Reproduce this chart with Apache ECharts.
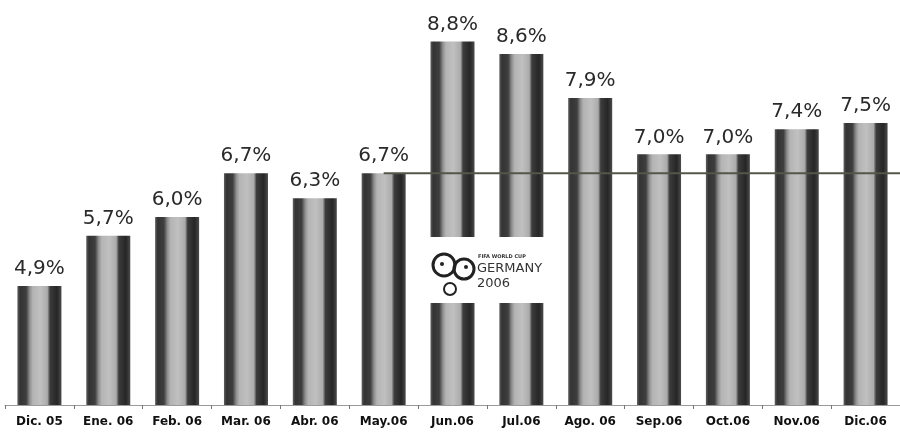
<!DOCTYPE html>
<html>
<head>
<meta charset="utf-8">
<script src="https://cdn.jsdelivr.net/npm/echarts@6/dist/echarts.min.js"></script>
<style>html,body{margin:0;padding:0;background:#fff}#c{width:900px;height:437px}</style>
</head>
<body>
<div id="c"></div>
<script>
// ---- data ----
var categories = ['Dic. 05','Ene. 06','Feb. 06','Mar. 06','Abr. 06','May.06','Jun.06','Jul.06','Ago. 06','Sep.06','Oct.06','Nov.06','Dic.06'];
var values = [4.9, 5.7, 6.0, 6.7, 6.3, 6.7, 8.8, 8.6, 7.9, 7.0, 7.0, 7.4, 7.5];
var refLevel = 6.7;           // reference line level (May.06 value)
var refFromIndex = 5;         // line starts at May.06
// --------------

var chart = echarts.init(document.getElementById('c'), null, {renderer: 'canvas'});

var barGradient = new echarts.graphic.LinearGradient(0, 0, 1, 0, [
  {offset: 0.00, color: '#5e5e5e'},
  {offset: 0.06, color: '#333333'},
  {offset: 0.20, color: '#3e3e3e'},
  {offset: 0.28, color: '#8e8e8e'},
  {offset: 0.35, color: '#b4b4b4'},
  {offset: 0.52, color: '#c0c0c0'},
  {offset: 0.68, color: '#ababab'},
  {offset: 0.74, color: '#3c3c3c'},
  {offset: 0.90, color: '#262626'},
  {offset: 1.00, color: '#4a4a4a'}
]);

var refLine = [[refFromIndex + 0.5, refLevel], [categories.length, refLevel]];

var Z = 100;
chart.setOption({
  backgroundColor: '#ffffff',
  animation: false,
  grid: {left: 5, width: 907, top: 29, bottom: 32, containLabel: false},
  xAxis: [{
    type: 'category',
    data: categories,
    axisLine: {show: true, lineStyle: {color: '#9a9a9a', width: 1}},
    axisTick: {show: true, length: 4, lineStyle: {color: '#777'}},
    axisLabel: {
      color: '#111', fontFamily: 'DejaVu Sans', fontWeight: 'bold', fontSize: 12, margin: 11
    }
  }, {
    type: 'value', min: 0, max: categories.length, show: false
  }],
  yAxis: {
    type: 'value', min: 3, max: 9, show: false,
    splitLine: {show: false}
  },
  series: [{
    type: 'bar',
    data: values,
    barWidth: 44,
    itemStyle: {color: barGradient},
    label: {
      show: true, position: 'top', distance: 7,
      fontFamily: 'DejaVu Sans', fontSize: 20, color: '#2a2a2a',
      formatter: function (p) { return p.value.toFixed(1).replace('.', ',') + '%'; }
    },
    z: 2
  }, {
    type: 'line',
    xAxisIndex: 1,
    data: refLine,
    symbol: 'none',
    lineStyle: {color: '#55554c', width: 2},
    z: 3,
    silent: true
  }],
  graphic: {
    z: Z, zlevel: 1,
    elements: [{
      type: 'group', left: 428, top: 237, z: Z,
      children: [
        {type: 'rect', z: Z, shape: {x: 0, y: 0, width: 122, height: 66}, style: {fill: '#ffffff'}},
        {type: 'circle', z: Z + 1, shape: {cx: 16, cy: 28, r: 11}, style: {fill: 'none', stroke: '#222', lineWidth: 3}},
        {type: 'circle', z: Z + 1, shape: {cx: 36, cy: 32, r: 10}, style: {fill: 'none', stroke: '#222', lineWidth: 3}},
        {type: 'circle', z: Z + 1, shape: {cx: 22, cy: 52, r: 6}, style: {fill: 'none', stroke: '#222', lineWidth: 2}},
        {type: 'circle', z: Z + 1, shape: {cx: 14, cy: 27, r: 2}, style: {fill: '#222'}},
        {type: 'circle', z: Z + 1, shape: {cx: 38, cy: 30, r: 2}, style: {fill: '#222'}},
        {type: 'text', z: Z + 1, style: {x: 50, y: 17, text: 'FIFA WORLD CUP', font: 'bold 5px DejaVu Sans', fill: '#333'}},
        {type: 'text', z: Z + 1, style: {x: 49, y: 25, text: 'GERMANY', font: '13px DejaVu Sans', fill: '#333'}},
        {type: 'text', z: Z + 1, style: {x: 49, y: 40, text: '2006', font: '13px DejaVu Sans', fill: '#333'}}
      ]
    }]
  }
});
</script>
</body>
</html>
